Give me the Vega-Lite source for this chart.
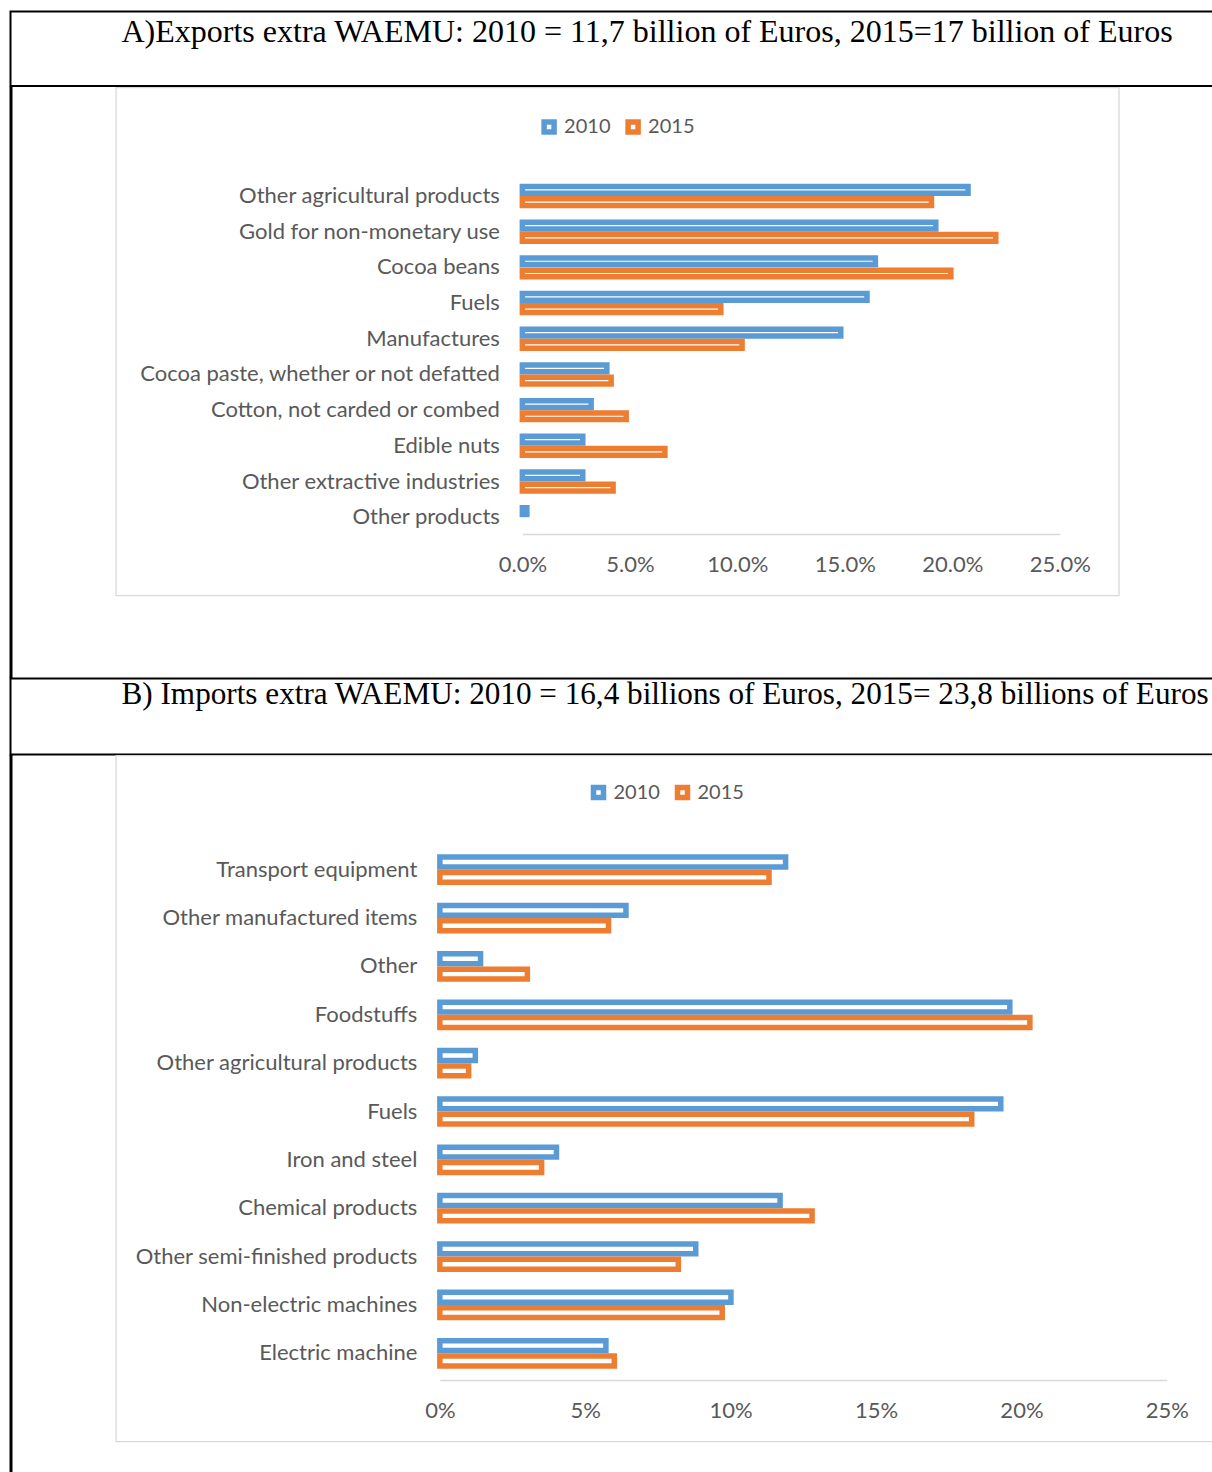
{
  "$schema": "https://vega.github.io/schema/vega-lite/v6.json",
  "padding": {"left": 9.5, "top": 10.5, "right": 0, "bottom": 0},
  "background": "white",
  "bounds": "full",
  "spacing": -2,
  "config": {"view": {"stroke": null}},
  "resolve": {"scale": {"stroke": "independent", "x": "independent", "y": "independent", "yOffset": "independent"}, "legend": {"stroke": "independent"}},
  "vconcat": [
    {
      "width": 1204,
      "height": 74.5,
      "view": {"stroke": "black", "strokeWidth": 2},
      "title": {"text": "A)Exports extra WAEMU: 2010 = 11,7 billion of Euros, 2015=17 billion of Euros", "anchor": "start", "frame": "group", "offset": -20, "dx": 111, "dy": 32.5, "baseline": "middle", "font": "Liberation Serif", "fontSize": 32, "fontWeight": "normal", "color": "black"},
      "data": {"values": []},
      "mark": "point",
      "encoding": {}
    },
    {
      "hconcat": [
        {
          "width": 1,
          "height": 590,
          "view": {"stroke": "black", "strokeWidth": 2},
          "data": {"values": []},
          "mark": "point",
          "encoding": {}
        },
        {
          "width": 1003,
          "height": 508,
          "view": {"stroke": "#d9d9d9", "strokeWidth": 1.3},
          "data": {"values": [
            {"category": "Other agricultural products", "year": "2010", "share": 0.2073},
            {"category": "Other agricultural products", "year": "2015", "share": 0.1903},
            {"category": "Gold for non-monetary use", "year": "2010", "share": 0.1923},
            {"category": "Gold for non-monetary use", "year": "2015", "share": 0.2202},
            {"category": "Cocoa beans", "year": "2010", "share": 0.1642},
            {"category": "Cocoa beans", "year": "2015", "share": 0.1993},
            {"category": "Fuels", "year": "2010", "share": 0.1603},
            {"category": "Fuels", "year": "2015", "share": 0.0923},
            {"category": "Manufactures", "year": "2010", "share": 0.1481},
            {"category": "Manufactures", "year": "2015", "share": 0.1022},
            {"category": "Cocoa paste, whether or not defatted", "year": "2010", "share": 0.0393},
            {"category": "Cocoa paste, whether or not defatted", "year": "2015", "share": 0.0413},
            {"category": "Cotton, not carded or combed", "year": "2010", "share": 0.032},
            {"category": "Cotton, not carded or combed", "year": "2015", "share": 0.0483},
            {"category": "Edible nuts", "year": "2010", "share": 0.0281},
            {"category": "Edible nuts", "year": "2015", "share": 0.0663},
            {"category": "Other extractive industries", "year": "2010", "share": 0.0281},
            {"category": "Other extractive industries", "year": "2015", "share": 0.0422},
            {"category": "Other products", "year": "2010", "share": 0.0021}
          ]},
          "mark": {"type": "bar", "fill": "white", "strokeWidth": 5.5, "height": 6.7},
          "encoding": {
            "y": {"field": "category", "type": "nominal",
              "sort": ["Other agricultural products", "Gold for non-monetary use", "Cocoa beans", "Fuels", "Manufactures", "Cocoa paste, whether or not defatted", "Cotton, not carded or combed", "Edible nuts", "Other extractive industries", "Other products"],
              "scale": {"range": [90.65, 447.55], "paddingInner": 0.316, "paddingOuter": 0.158},
              "axis": {"title": null, "offset": -406.5, "domain": false, "ticks": false, "labelPadding": 23, "labelFont": "Lato", "labelFontSize": 22, "labelColor": "#595959", "labelLimit": 0}},
            "yOffset": {"field": "year", "type": "nominal", "sort": ["2010", "2015"], "scale": {"paddingInner": 0, "paddingOuter": 0}},
            "x": {"field": "share", "type": "quantitative",
              "scale": {"domain": [0, 0.25], "range": [406.5, 944], "nice": false},
              "axis": {"title": null, "format": ".1%", "values": [0, 0.05, 0.1, 0.15, 0.2, 0.25], "offset": -61.5, "domainColor": "#d9d9d9", "domainWidth": 1.5, "ticks": false, "grid": false, "labelFlush": false, "labelPadding": 20, "labelFont": "Lato", "labelFontSize": 22, "labelColor": "#595959"}},
            "stroke": {"field": "year", "type": "nominal",
              "scale": {"domain": ["2010", "2015"], "range": ["#5b9bd5", "#ed7d31"]},
              "legend": {"orient": "none", "legendX": 528.6, "legendY": 29.5, "direction": "horizontal", "title": null, "symbolType": "square", "symbolSize": 100, "symbolStrokeWidth": 5.5, "symbolFillColor": "white", "labelFont": "Lato", "labelFontSize": 20, "labelColor": "#595959", "labelOffset": 5, "columnPadding": 6}}
          }
        }
      ],
      "spacing": 102.35,
      "bounds": "full"
    },
    {
      "width": 1204,
      "height": 76,
      "view": {"stroke": "black", "strokeWidth": 2},
      "title": {"text": "B) Imports extra WAEMU: 2010 = 16,4 billions of Euros, 2015= 23,8 billions of Euros", "anchor": "start", "frame": "group", "offset": -20, "dx": 111, "dy": 28, "baseline": "middle", "font": "Liberation Serif", "fontSize": 31.2, "fontWeight": "normal", "color": "black"},
      "data": {"values": []},
      "mark": "point",
      "encoding": {}
    },
    {
      "hconcat": [
        {
          "width": 1,
          "height": 720,
          "view": {"stroke": "black", "strokeWidth": 2},
          "data": {"values": []},
          "mark": "point",
          "encoding": {}
        },
        {
          "width": 1098,
          "height": 686,
          "view": {"stroke": "#d9d9d9", "strokeWidth": 1.3},
          "data": {"values": [
            {"category": "Transport equipment", "year": "2010", "share": 0.1189},
            {"category": "Transport equipment", "year": "2015", "share": 0.1132},
            {"category": "Other manufactured items", "year": "2010", "share": 0.064},
            {"category": "Other manufactured items", "year": "2015", "share": 0.058},
            {"category": "Other", "year": "2010", "share": 0.014},
            {"category": "Other", "year": "2015", "share": 0.0301},
            {"category": "Foodstuffs", "year": "2010", "share": 0.196},
            {"category": "Foodstuffs", "year": "2015", "share": 0.2029},
            {"category": "Other agricultural products", "year": "2010", "share": 0.0122},
            {"category": "Other agricultural products", "year": "2015", "share": 0.0099},
            {"category": "Fuels", "year": "2010", "share": 0.1929},
            {"category": "Fuels", "year": "2015", "share": 0.1829},
            {"category": "Iron and steel", "year": "2010", "share": 0.0401},
            {"category": "Iron and steel", "year": "2015", "share": 0.035},
            {"category": "Chemical products", "year": "2010", "share": 0.117},
            {"category": "Chemical products", "year": "2015", "share": 0.128},
            {"category": "Other semi-finished products", "year": "2010", "share": 0.088},
            {"category": "Other semi-finished products", "year": "2015", "share": 0.082},
            {"category": "Non-electric machines", "year": "2010", "share": 0.1001},
            {"category": "Non-electric machines", "year": "2015", "share": 0.0971},
            {"category": "Electric machine", "year": "2010", "share": 0.0571},
            {"category": "Electric machine", "year": "2015", "share": 0.06}
          ]},
          "mark": {"type": "bar", "fill": "white", "strokeWidth": 5.5, "height": 9.85},
          "encoding": {
            "y": {"field": "category", "type": "nominal",
              "sort": ["Transport equipment", "Other manufactured items", "Other", "Foodstuffs", "Other agricultural products", "Fuels", "Iron and steel", "Chemical products", "Other semi-finished products", "Non-electric machines", "Electric machine"],
              "scale": {"range": [90, 622], "paddingInner": 0.365, "paddingOuter": 0.1825},
              "axis": {"title": null, "offset": -324, "domain": false, "ticks": false, "labelPadding": 23, "labelFont": "Lato", "labelFontSize": 22, "labelColor": "#595959", "labelLimit": 0}},
            "yOffset": {"field": "year", "type": "nominal", "sort": ["2010", "2015"], "scale": {"paddingInner": 0, "paddingOuter": 0}},
            "x": {"field": "share", "type": "quantitative",
              "scale": {"domain": [0, 0.25], "range": [324, 1051], "nice": false},
              "axis": {"title": null, "format": ".0%", "values": [0, 0.05, 0.1, 0.15, 0.2, 0.25], "offset": -61.5, "domainColor": "#d9d9d9", "domainWidth": 1.5, "ticks": false, "grid": false, "labelFlush": false, "labelPadding": 20, "labelFont": "Lato", "labelFontSize": 22, "labelColor": "#595959"}},
            "stroke": {"field": "year", "type": "nominal",
              "scale": {"domain": ["2010", "2015"], "range": ["#5b9bd5", "#ed7d31"]},
              "legend": {"orient": "none", "legendX": 578, "legendY": 27, "direction": "horizontal", "title": null, "symbolType": "square", "symbolSize": 100, "symbolStrokeWidth": 5.5, "symbolFillColor": "white", "labelFont": "Lato", "labelFontSize": 20, "labelColor": "#595959", "labelOffset": 5, "columnPadding": 6}}
          }
        }
      ],
      "spacing": 102.35,
      "bounds": "full"
    }
  ]
}
